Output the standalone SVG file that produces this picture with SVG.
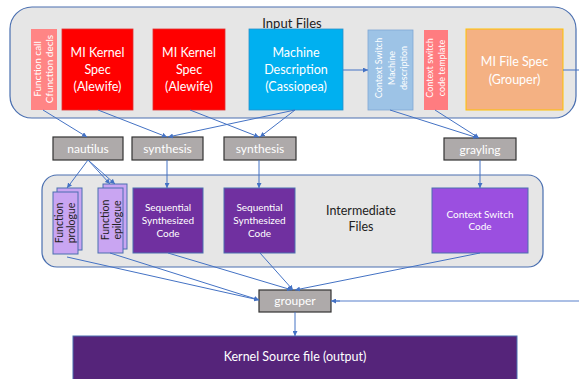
<svg xmlns="http://www.w3.org/2000/svg" width="579" height="379" viewBox="0 0 579 379">
<defs>
<style>
.t{font-family:Lato,"Open Sans","Liberation Sans",sans-serif;text-anchor:middle}
.w{fill:#ffffff}
.d{fill:#222222}
.cont{fill:#e6e6e6;stroke:#4a6fb0;stroke-width:1.2}
.tool{fill:#aeaaaa;stroke:#333333;stroke-width:1.2}
.c{stroke:#4472c4;stroke-width:1;fill:none;marker-end:url(#ah)}
</style>
<marker id="ah" viewBox="0 0 10 10" refX="10" refY="5" markerWidth="5" markerHeight="5" orient="auto" markerUnits="userSpaceOnUse">
<path d="M0,0 L10,5 L0,10 z" fill="#4472c4"/>
</marker>
</defs>
<rect x="0" y="0" width="579" height="379" fill="#ffffff"/>

<g id="input-files">
<rect class="cont" x="10" y="7" width="566" height="111" rx="22"/>
<text class="t d" x="292" y="28" font-size="13">Input Files</text>
</g>
<g id="intermediate-files">
<rect class="cont" x="42" y="175" width="501" height="92" rx="15"/>
<text class="t d" font-size="12.5"><tspan x="361" y="215">Intermediate</tspan><tspan x="361" y="231">Files</tspan></text>
</g>

<g id="function-call">
<rect x="31" y="29" width="26" height="81" fill="#ff8585"/>
<text class="t w" font-size="10" transform="translate(44,69) rotate(-90)"><tspan x="0" y="-3">Function call</tspan><tspan x="0" y="9">Cfunction decls</tspan></text>
</g>
<g id="mi-kernel-spec-1">
<rect x="62" y="29" width="71" height="81" fill="#ff0000" stroke="#e03030" stroke-width="0.8"/>
<text class="t w" font-size="12.5"><tspan x="97.5" y="57">MI Kernel</tspan><tspan x="97.5" y="74">Spec</tspan><tspan x="97.5" y="91">(Alewife)</tspan></text>
</g>
<g id="mi-kernel-spec-2">
<rect x="153" y="29" width="72" height="81" fill="#ff0000" stroke="#e03030" stroke-width="0.8"/>
<text class="t w" font-size="12.5"><tspan x="189" y="57">MI Kernel</tspan><tspan x="189" y="74">Spec</tspan><tspan x="189" y="91">(Alewife)</tspan></text>
</g>
<g id="machine-description">
<rect x="249" y="29" width="94" height="81" fill="#00b0f0" stroke="#2a8fc8" stroke-width="0.8"/>
<text class="t w" font-size="12.5"><tspan x="296" y="57">Machine</tspan><tspan x="296" y="74">Description</tspan><tspan x="296" y="91">(Cassiopea)</tspan></text>
</g>
<g id="cs-machine-description">
<rect x="368" y="30" width="45" height="80" fill="#9dc3e6" stroke="#7fa7d4" stroke-width="0.8"/>
<text class="t w" font-size="9" transform="translate(390.5,68) rotate(-90)"><tspan x="0" y="-9">Context Switch</tspan><tspan x="0" y="4">Machine</tspan><tspan x="0" y="16">description</tspan></text>
</g>
<g id="cs-code-template">
<rect x="424" y="30" width="24" height="80" fill="#ff7c80"/>
<text class="t w" font-size="9" transform="translate(436,68) rotate(-90)"><tspan x="0" y="-3">Context switch</tspan><tspan x="0" y="9">code template</tspan></text>
</g>
<g id="mi-file-spec">
<rect x="466" y="29" width="97" height="81" fill="#f4b183" stroke="#ffc000" stroke-width="1"/>
<text class="t w" font-size="12.5"><tspan x="514.5" y="66">MI File Spec</tspan><tspan x="514.5" y="84">(Grouper)</tspan></text>
</g>

<g id="nautilus">
<rect class="tool" x="53" y="137" width="70" height="23"/>
<text class="t w" x="88" y="153" font-size="12">nautilus</text>
</g>
<g id="synthesis-1">
<rect class="tool" x="132" y="137" width="71" height="23"/>
<text class="t w" x="167.5" y="153" font-size="12">synthesis</text>
</g>
<g id="synthesis-2">
<rect class="tool" x="224" y="137" width="72" height="23"/>
<text class="t w" x="260" y="153" font-size="12">synthesis</text>
</g>
<g id="grayling">
<rect class="tool" x="444" y="138" width="72" height="22"/>
<text class="t w" x="480" y="154" font-size="12">grayling</text>
</g>

<g id="function-prologue">
<rect x="57" y="188" width="25" height="62" fill="#c9a5f2" stroke="#4a6fb0" stroke-width="1"/>
<rect x="53" y="192" width="25" height="62" fill="#c9a5f2" stroke="#4a6fb0" stroke-width="1"/>
<text class="t d" font-size="10.5" transform="translate(65,223) rotate(-90)"><tspan x="0" y="-2">Function</tspan><tspan x="0" y="9.5">prologue</tspan></text>
</g>
<g id="function-epilogue">
<rect x="103" y="184" width="24" height="65" fill="#c9a5f2" stroke="#4a6fb0" stroke-width="1"/>
<rect x="98" y="188" width="25" height="65" fill="#c9a5f2" stroke="#4a6fb0" stroke-width="1"/>
<text class="t d" font-size="10.5" transform="translate(111,220) rotate(-90)"><tspan x="0" y="-2">Function</tspan><tspan x="0" y="9.5">epilogue</tspan></text>
</g>
<g id="sequential-1">
<rect x="133" y="188" width="70" height="65" fill="#7030a0" stroke="#4a6fb0" stroke-width="1"/>
<text class="t w" font-size="10"><tspan x="168" y="211">Sequential</tspan><tspan x="168" y="224">Synthesized</tspan><tspan x="168" y="237">Code</tspan></text>
</g>
<g id="sequential-2">
<rect x="224" y="188" width="71" height="65" fill="#7030a0" stroke="#4a6fb0" stroke-width="1"/>
<text class="t w" font-size="10"><tspan x="259.5" y="211">Sequential</tspan><tspan x="259.5" y="224">Synthesized</tspan><tspan x="259.5" y="237">Code</tspan></text>
</g>
<g id="context-switch-code">
<rect x="432" y="188" width="96" height="65" fill="#9b4fe0" stroke="#4a6fb0" stroke-width="1"/>
<text class="t w" font-size="10"><tspan x="480" y="218">Context Switch</tspan><tspan x="480" y="230">Code</tspan></text>
</g>

<g id="grouper">
<rect class="tool" x="259" y="290" width="72" height="22"/>
<text class="t w" x="295" y="305" font-size="12">grouper</text>
</g>
<g id="kernel-source">
<rect x="73" y="336" width="444" height="45" fill="#55247a" stroke="#4a6fb0" stroke-width="1"/>
<text class="t w" x="295" y="361" font-size="12.5">Kernel Source file (output)</text>
</g>

<g id="connectors">
<line class="c" x1="43" y1="110" x2="87" y2="137"/>
<line class="c" x1="98" y1="110" x2="167" y2="137"/>
<line class="c" x1="190" y1="110" x2="259" y2="137"/>
<line class="c" x1="295" y1="110" x2="168" y2="137"/>
<line class="c" x1="295" y1="110" x2="260" y2="137"/>
<line class="c" x1="343" y1="70" x2="368" y2="70"/>
<line x1="563" y1="70" x2="579" y2="70" stroke="#4472c4" stroke-width="1"/>
<line class="c" x1="390" y1="110" x2="478" y2="138"/>
<line class="c" x1="435" y1="110" x2="479" y2="138"/>
<line class="c" x1="88" y1="160" x2="67" y2="188"/>
<line class="c" x1="88" y1="160" x2="110" y2="184"/>
<line class="c" x1="88" y1="160" x2="115" y2="184"/>
<line class="c" x1="167" y1="160" x2="167" y2="188"/>
<line class="c" x1="259" y1="160" x2="259" y2="188"/>
<line class="c" x1="480" y1="160" x2="480" y2="188"/>
<line class="c" x1="67" y1="257" x2="259" y2="300"/>
<line class="c" x1="110" y1="253" x2="259" y2="300"/>
<line class="c" x1="168" y1="253" x2="292" y2="290"/>
<line class="c" x1="260" y1="253" x2="293" y2="290"/>
<line class="c" x1="480" y1="253" x2="295" y2="290"/>
<line x1="579" y1="301" x2="334" y2="301" stroke="#8faadc" stroke-width="1.6"/>
<line class="c" x1="340" y1="301" x2="331" y2="301"/>
<line class="c" x1="295" y1="312" x2="295" y2="336"/>
</g>
</svg>
